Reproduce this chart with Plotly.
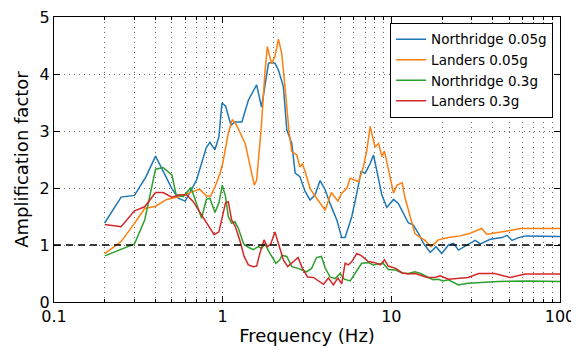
import plotly.graph_objects as go

# ---- data ----
nr05_f = [0.2, 0.25, 0.3, 0.35, 0.4, 0.5, 0.545, 0.6, 0.7, 0.8, 0.84, 0.9, 0.95, 0.99, 1.04, 1.12, 1.18, 1.30,
          1.42, 1.59, 1.70, 1.87, 1.95, 2.04, 2.14, 2.29, 2.40, 2.57, 2.69, 2.87, 3.08, 3.30, 3.53, 3.78, 4.05,
          4.33, 4.75, 5.08, 5.32, 5.83, 6.24, 6.62, 7.0, 7.49, 7.84, 8.39, 8.78, 9.4, 10.3, 11.0, 11.8, 12.6,
          13.5, 14.5, 15.5, 17.0, 18.4, 19.9, 21.8, 23.4, 25.0, 27.4, 31.4, 33.7, 38.6, 45.3, 48.5, 51.9, 56.8,
          62.3, 100]
nr05_v = [1.39, 1.84, 1.87, 2.19, 2.56, 1.99, 1.82, 1.77, 2.14, 2.71, 2.8, 2.67, 2.9, 3.49, 3.44, 3.1, 3.16, 3.16,
          3.54, 3.81, 3.42, 4.19, 4.2, 4.19, 4.07, 3.78, 3.02, 2.78, 2.26, 2.2, 1.94, 1.79, 1.88, 2.13, 1.97,
          1.73, 1.44, 1.13, 1.13, 1.5, 1.91, 2.29, 2.26, 2.43, 2.58, 2.14, 1.88, 1.66, 1.80, 1.73, 1.56, 1.39,
          1.35, 1.2, 1.03, 0.87, 0.97, 0.85, 1.0, 1.03, 0.91, 0.98, 1.08, 1.02, 1.1, 1.13, 1.17, 1.08, 1.13,
          1.16, 1.15]

la05_f = [0.2, 0.25, 0.3, 0.345, 0.4, 0.466, 0.545, 0.64, 0.73, 0.80, 0.85, 0.9, 0.966, 1.0, 1.08, 1.14, 1.2,
          1.36, 1.45, 1.54, 1.59, 1.69, 1.78, 1.84, 1.95, 2.04, 2.14, 2.24, 2.34, 2.48, 2.57, 2.75, 2.87, 2.97,
          3.08, 3.3, 3.53, 3.87, 4.05, 4.41, 4.82, 5.08, 5.44, 5.7, 5.98, 6.4, 6.83, 7.16, 7.49, 7.7, 8.0,
          8.4, 8.8, 9.1, 9.6, 10.3, 10.8, 11.6, 12.0, 12.9, 13.8, 14.9, 15.7, 17.2, 19.0, 21.8, 25.6, 29.0,
          34.3, 36.8, 43.3, 49.8, 58.0, 100]
la05_v = [0.85, 1.06, 1.38, 1.64, 1.68, 1.8, 1.84, 1.92, 1.98, 1.86, 1.86, 2.02, 2.26, 2.43, 2.96, 3.2, 3.12,
          2.78, 2.43, 2.05, 2.14, 3.02, 4.01, 4.48, 4.18, 4.3, 4.61, 4.36, 3.78, 2.96, 2.64, 2.58, 2.37, 2.42,
          2.29, 1.99, 1.86, 1.70, 1.61, 1.92, 1.77, 1.91, 1.99, 2.17, 2.14, 2.11, 2.37, 2.67, 3.08, 2.93, 2.72,
          2.78, 2.55, 2.65, 2.35, 1.91, 2.05, 2.09, 1.85, 1.5, 1.2, 1.13, 1.09, 0.97, 1.09, 1.13, 1.16, 1.2,
          1.29, 1.19, 1.22, 1.25, 1.29, 1.29]

nr3_f = [0.2, 0.25, 0.3, 0.345, 0.4, 0.443, 0.5, 0.53, 0.584, 0.649, 0.70, 0.75, 0.80, 0.84, 0.9, 0.95, 0.995,
         1.04, 1.08, 1.13, 1.18, 1.24, 1.33, 1.42, 1.52, 1.63, 1.70, 1.78, 1.91, 2.07, 2.18, 2.25, 2.40, 2.57,
         2.8, 2.97, 3.14, 3.37, 3.6, 3.85, 4.05, 4.33, 4.65, 4.97, 5.26, 5.7, 6.1, 6.67, 7.3, 7.84, 8.4, 9.0,
         9.6, 10.6, 11.6, 12.6, 13.8, 14.9, 16.6, 17.7, 19.0, 20.3, 21.8, 25.0, 28.5, 43, 65, 100]
nr3_v = [0.81, 0.92, 1.02, 1.44, 2.33, 2.36, 2.23, 1.88, 1.85, 2.01, 1.73, 1.47, 1.8, 1.82, 1.57, 1.74, 2.05,
         1.85, 1.5, 1.38, 1.41, 1.29, 1.02, 0.96, 0.92, 0.97, 0.94, 1.02, 0.85, 0.68, 0.74, 0.82, 0.8, 0.62,
         0.59, 0.56, 0.53, 0.59, 0.78, 0.8, 0.6, 0.44, 0.41, 0.5, 0.40, 0.37, 0.5, 0.68, 0.69, 0.65, 0.67, 0.67,
         0.57, 0.56, 0.51, 0.5, 0.53, 0.5, 0.43, 0.39, 0.4, 0.37, 0.39, 0.30, 0.33, 0.36, 0.37, 0.36]

la3_f = [0.2, 0.25, 0.3, 0.345, 0.4, 0.443, 0.5, 0.56, 0.61, 0.67, 0.73, 0.82, 0.89, 0.95, 1.0, 1.04, 1.08,
         1.13, 1.19, 1.27, 1.34, 1.42, 1.52, 1.59, 1.66, 1.76, 1.84, 1.93, 2.04, 2.14, 2.29, 2.43, 2.57, 2.72,
         2.8, 2.97, 3.19, 3.45, 3.69, 3.96, 4.24, 4.53, 4.82, 5.08, 5.32, 5.56, 5.83, 6.24, 6.67, 7.3, 8.0,
         8.6, 9.1, 9.6, 10.6, 11.6, 12.6, 13.8, 14.9, 16.3, 18.1, 19.5, 21.8, 25, 28.5, 33, 41, 50.7, 62, 100]
la3_v = [1.36, 1.32, 1.6, 1.67, 1.92, 1.92, 1.84, 1.88, 1.88, 1.76, 1.58, 1.35, 1.18, 1.23, 1.5, 1.74, 1.76,
         1.44, 1.32, 1.06, 0.8, 0.65, 0.62, 0.63, 0.85, 1.09, 0.97, 1.02, 1.23, 1.02, 0.74, 0.62, 0.68, 0.74,
         0.78, 0.59, 0.44, 0.43, 0.37, 0.31, 0.42, 0.3, 0.42, 0.32, 0.68, 0.65, 0.71, 0.85, 0.81, 0.71, 0.69,
         0.65, 0.74, 0.63, 0.59, 0.51, 0.49, 0.5, 0.47, 0.43, 0.43, 0.46, 0.4, 0.42, 0.43, 0.5, 0.5, 0.43,
         0.49, 0.49]

series_names = ["Northridge 0.05g", "Landers 0.05g", "Northridge 0.3g", "Landers 0.3g"]
x_tick_vals = [0.1, 1, 10, 100]
x_tick_text = ["0.1", "1", "10", "100"]
y_tick_vals = [0, 1, 2, 3, 4, 5]
reference_level = 1.0

colors = ["#1f77b4", "#ff7f0e", "#2ca02c", "#d62728"]
series = [(nr05_f, nr05_v), (la05_f, la05_v), (nr3_f, nr3_v), (la3_f, la3_v)]

minor_vals = [m * 10 ** e for e in (-1, 0, 1) for m in range(2, 10)]

fig = go.Figure()
for (f, v), name, c in zip(series, series_names, colors):
    fig.add_trace(go.Scatter(x=f, y=v, mode="lines", name=name,
                             line=dict(color=c, width=1.5)))

fig.add_shape(type="line", xref="paper", yref="y", x0=0, x1=1,
              y0=reference_level, y1=reference_level,
              line=dict(color="black", width=1.5, dash="7px,5px"))

font = "DejaVu Sans"
grid_col = "#666"
grid_dash = "1px,4px"
# the page body adds an 8px offset, so the figure is 8px smaller and shifted
fig.update_layout(
    width=571, height=348,
    margin=dict(l=46, r=19, t=9, b=54),
    paper_bgcolor="white", plot_bgcolor="white",
    font=dict(family=font, color="black", size=16),
    showlegend=True,
    legend=dict(x=0.986, xanchor="right", y=0.98, yanchor="top",
                bgcolor="white", bordercolor="black", borderwidth=1.2,
                font=dict(family=font, size=13.5, color="black"),
                tracegroupgap=0),
)
fig.update_xaxes(
    type="log", range=[-1, 2], automargin=False, ticklabeloverflow="allow",
    tickmode="array", tickvals=x_tick_vals, ticktext=x_tick_text,
    ticks="inside", ticklen=6, tickwidth=1, tickcolor="black",
    showline=True, linecolor="black", linewidth=1.2, mirror="allticks",
    showgrid=True, gridcolor=grid_col, griddash=grid_dash, gridwidth=1,
    minor=dict(tickmode="array", tickvals=minor_vals, ticks="inside", ticklen=3,
               tickcolor="black", showgrid=True, gridcolor=grid_col, griddash=grid_dash, gridwidth=1),
    tickfont=dict(family=font, size=16),
    title=dict(text="Frequency (Hz)", font=dict(family=font, size=18), standoff=4),
    zeroline=False,
)
fig.update_yaxes(
    range=[0, 5], tickmode="array", tickvals=y_tick_vals, automargin=False, ticklabeloverflow="allow",
    ticks="inside", ticklen=6, tickwidth=1, tickcolor="black",
    showline=True, linecolor="black", linewidth=1.2, mirror="allticks",
    showgrid=True, gridcolor=grid_col, griddash=grid_dash, gridwidth=1,
    tickfont=dict(family=font, size=16),
    title=dict(text="Amplification factor", font=dict(family=font, size=18), standoff=6),
    zeroline=False,
)

fig.write_html("out.html")
